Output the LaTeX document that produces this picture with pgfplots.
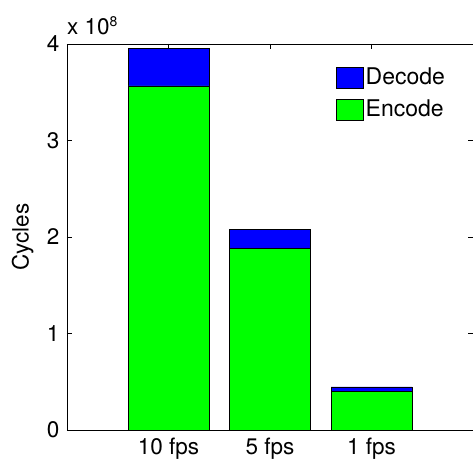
\documentclass[border=0pt]{standalone}
\usepackage{fontspec}
\setmainfont{TeX Gyre Heros}
\usepackage{pgfplots}
\pgfplotsset{compat=1.18}
\begin{document}
\fontsize{22.5}{26}\selectfont
\begin{tikzpicture}
\begin{axis}[
  scale only axis,
  width=406pt, height=386pt,
  xmin=0, xmax=4, ymin=0, ymax=4e8,
  xtick={1,2,3}, xticklabels={10 fps,5 fps,1 fps},
  ytick={0,1e8,2e8,3e8,4e8},
  scaled y ticks=base 10:-8,
  ytick scale label code/.code={x 10\textsuperscript{\fontsize{14}{16}\selectfont #1}},
  every y tick scale label/.style={at={(rel axis cs:0,1)}, anchor=south west, inner sep=0pt, yshift=9pt},
  /pgf/number format/assume math mode=true,
  tick align=inside, tick pos=both,
  major tick length=5pt,
  ybar stacked, bar width=81pt,
  ylabel={Cycles},
  ylabel style={yshift=-2pt},
  axis line style={line width=0.8pt},
  tick style={line width=0.6pt, black},
  legend style={draw=none, fill=none, at={(rel axis cs:0.662,0.943)}, anchor=north west, row sep=7pt, inner sep=0pt, font=\fontsize{23}{26}\selectfont},
  legend cell align=left,
  reverse legend,
  legend image code/.code={\draw[#1] (0pt,-10.5pt) rectangle (27pt,10.5pt);},
  every axis plot/.append style={draw=black, line width=0.7pt},
]
\addplot[fill={rgb,255:red,0;green,255;blue,0}] coordinates {(1,3.565e8) (2,1.886e8) (3,0.40e8)};
\addplot[fill={rgb,255:red,0;green,0;blue,255}] coordinates {(1,0.385e8) (2,0.194e8) (3,0.046e8)};
\legend{Encode,Decode}
\end{axis}
\pgfresetboundingbox
\path (-67pt,-36pt) rectangle (406pt,430pt);
\end{tikzpicture}
\end{document}
